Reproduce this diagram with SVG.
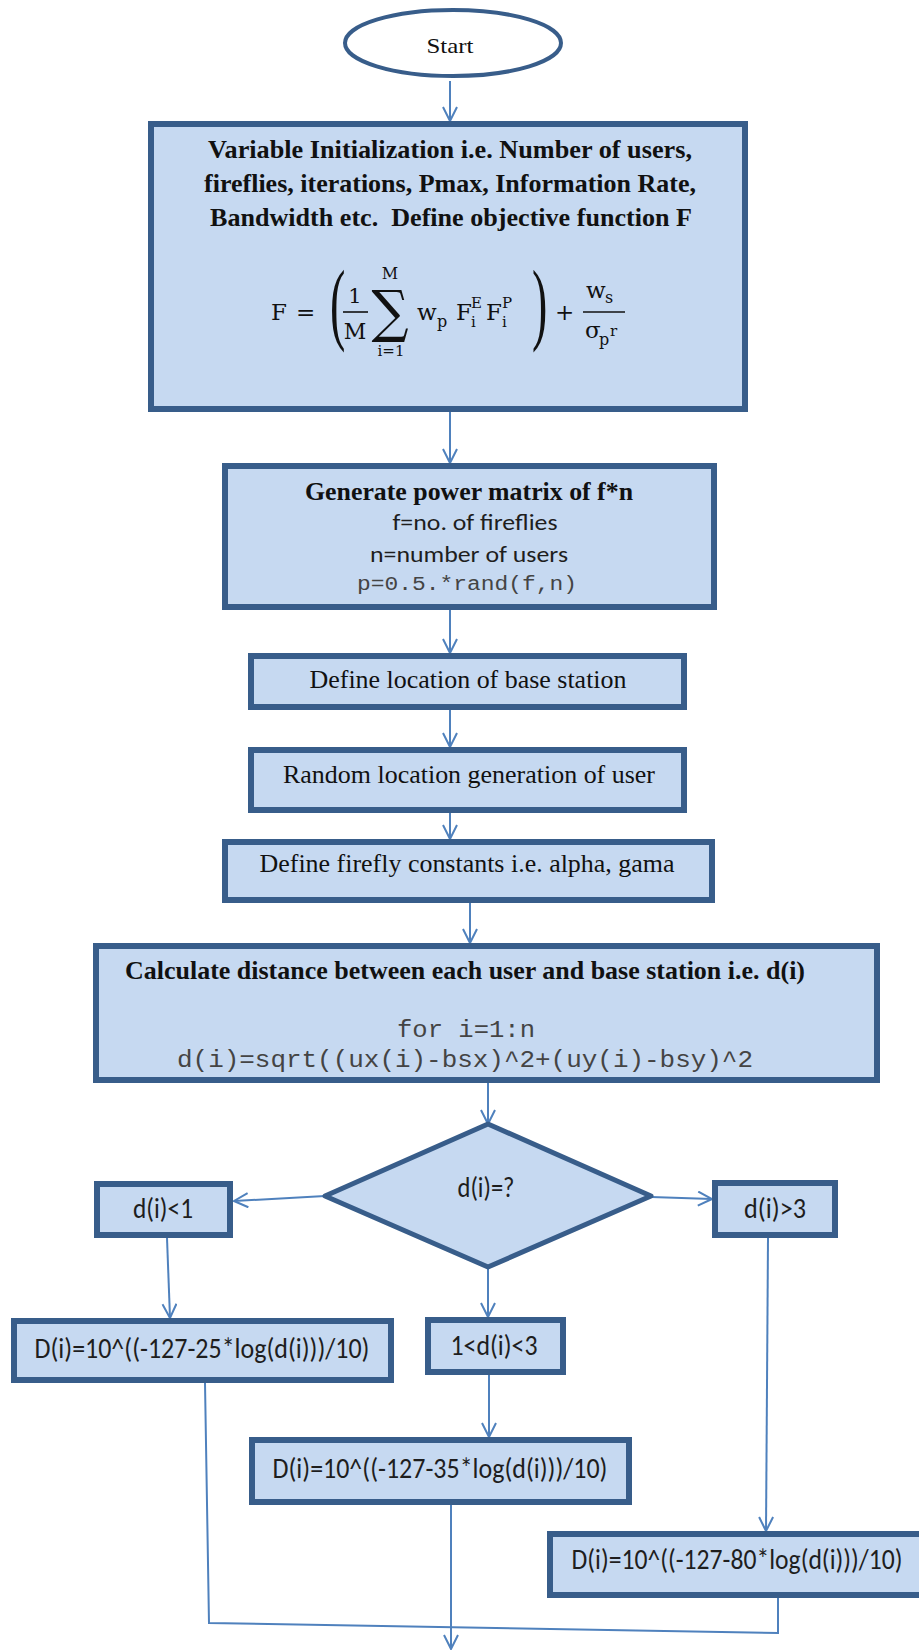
<svg xmlns="http://www.w3.org/2000/svg" width="919" height="1650" viewBox="0 0 919 1650">
  <defs>
    <marker id="arrow" viewBox="0 0 16 16" refX="15" refY="8" markerWidth="16" markerHeight="16" markerUnits="userSpaceOnUse" orient="auto">
      <path d="M1,1 L15,8 L1,15" fill="none" stroke="#4F81BD" stroke-width="2"/>
    </marker>
    <style>
      .box { fill: #C6D9F1; stroke: #385D8A; stroke-width: 6; }
      .dia { fill: #C6D9F1; stroke: #385D8A; stroke-width: 5; stroke-linejoin: round; }
      .term { fill: #FFFFFF; stroke: #385D8A; stroke-width: 4; }
      .link { fill: none; stroke: #4F81BD; stroke-width: 2; }
      .serif { font-family: "Liberation Serif", "Times New Roman", serif; fill: #111111; text-anchor: middle; }
      .bold { font-weight: bold; }
      .sans { font-family: Carlito, Lato, "Liberation Sans", sans-serif; fill: #1E1E1E; text-anchor: middle; }
      .mono { font-family: "Liberation Mono", "Courier New", monospace; fill: #444444; text-anchor: middle; }
      .math text { font-family: "DejaVu Serif", "Liberation Serif", serif; fill: #111111; }
      .math text.delim { font-family: "Liberation Serif", serif; }
    </style>
  </defs>

  <!-- connectors -->
  <g id="connectors">
    <line class="link" x1="450" y1="81" x2="450" y2="121" marker-end="url(#arrow)"/>
    <line class="link" x1="450" y1="412" x2="450" y2="463" marker-end="url(#arrow)"/>
    <line class="link" x1="450" y1="610" x2="450" y2="653" marker-end="url(#arrow)"/>
    <line class="link" x1="450" y1="710" x2="450" y2="747" marker-end="url(#arrow)"/>
    <line class="link" x1="450" y1="813" x2="450" y2="839" marker-end="url(#arrow)"/>
    <line class="link" x1="470" y1="903" x2="470" y2="943" marker-end="url(#arrow)"/>
    <line class="link" x1="488" y1="1083" x2="488" y2="1124" marker-end="url(#arrow)"/>
    <line class="link" x1="325" y1="1196" x2="234" y2="1201" marker-end="url(#arrow)"/>
    <line class="link" x1="651" y1="1197" x2="712" y2="1199" marker-end="url(#arrow)"/>
    <line class="link" x1="167" y1="1238" x2="170" y2="1318" marker-end="url(#arrow)"/>
    <line class="link" x1="488" y1="1267" x2="488" y2="1317" marker-end="url(#arrow)"/>
    <line class="link" x1="489" y1="1375" x2="489" y2="1437" marker-end="url(#arrow)"/>
    <line class="link" x1="768" y1="1238" x2="766" y2="1531" marker-end="url(#arrow)"/>
    <polyline class="link" points="205,1383 209,1623 778,1633 778,1598"/>
    <line class="link" x1="451" y1="1505" x2="451" y2="1649" marker-end="url(#arrow)"/>
  </g>

  <!-- start terminal -->
  <g id="start">
    <ellipse class="term" cx="453" cy="43" rx="108" ry="33"/>
    <text class="serif" x="450" y="53" font-size="22" textLength="47" lengthAdjust="spacingAndGlyphs">Start</text>
  </g>

  <!-- initialization and objective function -->
  <g id="init">
    <rect class="box" x="151" y="124" width="594" height="285"/>
    <text class="serif bold" x="450" y="158" font-size="26" textLength="484" lengthAdjust="spacingAndGlyphs">Variable Initialization i.e. Number of users,</text>
    <text class="serif bold" x="450" y="192" font-size="26" textLength="492" lengthAdjust="spacingAndGlyphs">fireflies, iterations, Pmax, Information Rate,</text>
    <text class="serif bold" x="451" y="226" font-size="26" textLength="482" lengthAdjust="spacingAndGlyphs" xml:space="preserve">Bandwidth etc.  Define objective function F</text>
    <!-- F = ( 1/M sum_{i=1}^{M} w_p F_i^E F_i^P ) + w_s / sigma_pr -->
    <g class="math">
      <text x="271" y="320" font-size="23">F</text>
      <text x="296" y="320" font-size="23">=</text>
      <text class="delim" x="0" y="0" font-size="92" transform="translate(330,333) scale(0.5,1)">(</text>
      <text x="355" y="303" font-size="21" text-anchor="middle">1</text>
      <line x1="343" y1="312" x2="368" y2="312" stroke="#111111" stroke-width="1.6"/>
      <text x="355" y="339" font-size="22" text-anchor="middle">M</text>
      <text x="390" y="279" font-size="16" text-anchor="middle">M</text>
      <text x="0" y="0" font-size="52" text-anchor="middle" transform="translate(390,331) scale(1,1.1)">∑</text>
      <text x="391" y="356" font-size="15" text-anchor="middle">i=1</text>
      <text x="417" y="320" font-size="23">w</text>
      <text x="437" y="327" font-size="16">p</text>
      <text x="456" y="320" font-size="23">F</text>
      <text x="471" y="308" font-size="15">E</text>
      <text x="471" y="327" font-size="15">i</text>
      <text x="486" y="320" font-size="23">F</text>
      <text x="502" y="308" font-size="15">P</text>
      <text x="502" y="327" font-size="15">i</text>
      <text class="delim" x="0" y="0" font-size="92" transform="translate(532,333) scale(0.5,1)">)</text>
      <text x="555" y="320" font-size="23">+</text>
      <text x="586" y="298" font-size="23">w</text>
      <text x="605" y="303" font-size="16">s</text>
      <line x1="583" y1="312" x2="625" y2="312" stroke="#111111" stroke-width="1.6"/>
      <text x="585" y="338" font-size="23">σ</text>
      <text x="599" y="345" font-size="16">p</text>
      <text x="610" y="336" font-size="15">r</text>
    </g>
  </g>

  <!-- power matrix -->
  <g id="power-matrix">
    <rect class="box" x="225" y="466" width="489" height="141"/>
    <text class="serif bold" x="469" y="500" font-size="25" textLength="328" lengthAdjust="spacingAndGlyphs">Generate power matrix of f*n</text>
    <text class="sans" x="475" y="530" font-size="23" textLength="165" lengthAdjust="spacingAndGlyphs">f=no. of fireflies</text>
    <text class="sans" x="469" y="562" font-size="23" textLength="198" lengthAdjust="spacingAndGlyphs">n=number of users</text>
    <text class="mono" x="467" y="590" font-size="20" textLength="220" lengthAdjust="spacingAndGlyphs">p=0.5.*rand(f,n)</text>
  </g>

  <g id="base-station">
    <rect class="box" x="251" y="656" width="433" height="51"/>
    <text class="serif" x="468" y="688" font-size="26" textLength="317" lengthAdjust="spacingAndGlyphs">Define location of base station</text>
  </g>

  <g id="user-location">
    <rect class="box" x="251" y="750" width="433" height="60"/>
    <text class="serif" x="469" y="783" font-size="26" textLength="372" lengthAdjust="spacingAndGlyphs">Random location generation of user</text>
  </g>

  <g id="constants">
    <rect class="box" x="225" y="842" width="487" height="58"/>
    <text class="serif" x="467" y="872" font-size="26" textLength="415" lengthAdjust="spacingAndGlyphs">Define firefly constants i.e. alpha, gama</text>
  </g>

  <g id="distance">
    <rect class="box" x="96" y="946" width="781" height="134"/>
    <text class="serif bold" x="465" y="979" font-size="25" textLength="680" lengthAdjust="spacingAndGlyphs">Calculate distance between each user and base station i.e. d(i)</text>
    <text class="mono" x="466" y="1037" font-size="24" textLength="138" lengthAdjust="spacingAndGlyphs">for i=1:n</text>
    <text class="mono" x="465" y="1067" font-size="24" textLength="576" lengthAdjust="spacingAndGlyphs">d(i)=sqrt((ux(i)-bsx)^2+(uy(i)-bsy)^2</text>
  </g>

  <g id="decision">
    <polygon class="dia" points="488,1124 651,1196 488,1267 325,1196"/>
    <text class="sans" x="486" y="1197" font-size="28" textLength="57" lengthAdjust="spacingAndGlyphs">d(i)=?</text>
  </g>

  <g id="near">
    <rect class="box" x="97" y="1184" width="133" height="51"/>
    <text class="sans" x="163" y="1218" font-size="28" textLength="60" lengthAdjust="spacingAndGlyphs">d(i)&lt;1</text>
  </g>

  <g id="far">
    <rect class="box" x="715" y="1183" width="120" height="52"/>
    <text class="sans" x="775" y="1218" font-size="28" textLength="62" lengthAdjust="spacingAndGlyphs">d(i)&gt;3</text>
  </g>

  <g id="middle">
    <rect class="box" x="428" y="1320" width="135" height="52"/>
    <text class="sans" x="494" y="1355" font-size="28" textLength="87" lengthAdjust="spacingAndGlyphs">1&lt;d(i)&lt;3</text>
  </g>

  <g id="loss-near">
    <rect class="box" x="14" y="1321" width="377" height="59"/>
    <text class="sans" x="202" y="1358" font-size="28" textLength="335" lengthAdjust="spacingAndGlyphs">D(i)=10^((-127-25*log(d(i)))/10)</text>
  </g>

  <g id="loss-middle">
    <rect class="box" x="252" y="1440" width="377" height="62"/>
    <text class="sans" x="440" y="1478" font-size="28" textLength="335" lengthAdjust="spacingAndGlyphs">D(i)=10^((-127-35*log(d(i)))/10)</text>
  </g>

  <g id="loss-far">
    <rect class="box" x="550" y="1534" width="374" height="61"/>
    <text class="sans" x="737" y="1569" font-size="28" textLength="331" lengthAdjust="spacingAndGlyphs">D(i)=10^((-127-80*log(d(i)))/10)</text>
  </g>
</svg>
